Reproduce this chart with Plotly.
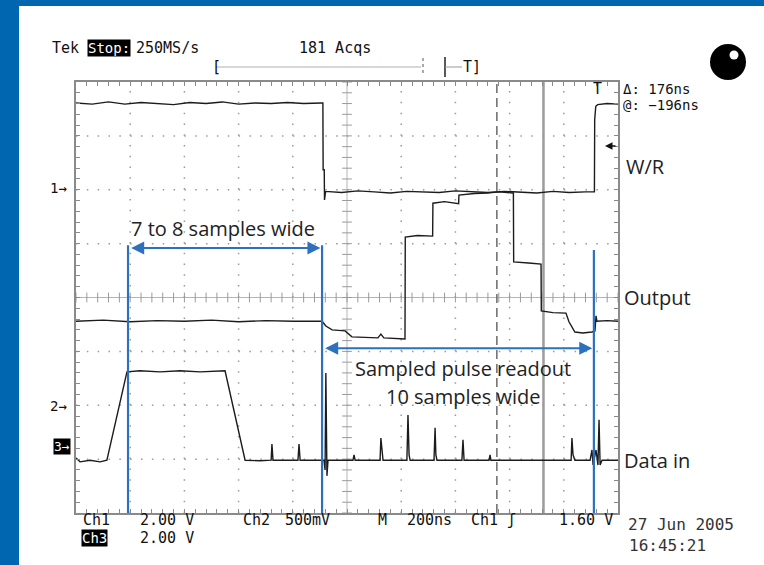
import numpy as np
import plotly.graph_objects as go

# ---------------- data (time in ns, 200 ns/div; amplitude in screen divisions) ----------------
wr_t = [0, 60, 120, 180, 240, 300, 360, 420, 480, 540, 600, 660, 720, 780, 840, 905, 911, 912,
        916, 917, 921, 980, 1040, 1100, 1160, 1220, 1280, 1340, 1400, 1460, 1520, 1580, 1640,
        1700, 1760, 1820, 1880, 1913, 1914, 1918, 1925, 1960, 2000]
wr_v = [7.61, 7.59, 7.63, 7.59, 7.62, 7.60, 7.58, 7.62, 7.60, 7.63, 7.59, 7.61, 7.60, 7.62, 7.60,
        7.61, 7.61, 6.37, 6.37, 5.81, 5.97, 5.95, 5.98, 5.96, 5.94, 5.97, 5.96, 5.95, 5.98, 5.96,
        5.95, 5.97, 5.96, 5.94, 5.97, 5.95, 5.96, 5.96, 7.30, 7.55, 7.58, 7.60, 7.59]

out_t = [0, 100, 200, 300, 400, 500, 600, 700, 800, 908, 922, 945, 993, 1018, 1114, 1125, 1136,
         1214, 1215, 1260, 1316, 1317, 1360, 1412, 1413, 1470, 1517, 1560, 1614, 1615, 1670,
         1716, 1717, 1760, 1808, 1819, 1841, 1870, 1904, 1915, 1919, 1922, 1960, 2000]
out_v = [3.56, 3.58, 3.55, 3.57, 3.56, 3.58, 3.55, 3.57, 3.56, 3.56, 3.47, 3.40, 3.38, 3.27, 3.25,
         3.32, 3.25, 3.23, 5.12, 5.15, 5.14, 5.75, 5.78, 5.74, 5.90, 5.93, 5.94, 5.96, 5.94, 4.66,
         4.64, 4.62, 3.75, 3.72, 3.71, 3.55, 3.36, 3.34, 3.36, 3.38, 3.66, 3.56, 3.57, 3.56]

din_t = [0, 15, 52, 89, 114, 188, 236, 310, 384, 458, 550, 624, 679, 720, 723, 727, 819, 823, 827,
         915, 919, 922, 926, 930, 1022, 1026, 1030, 1122, 1125, 1129, 1133, 1221, 1225, 1229,
         1233, 1321, 1325, 1328, 1332, 1424, 1428, 1432, 1524, 1528, 1531, 1827, 1830, 1834,
         1841, 1897, 1904, 1908, 1919, 1926, 1930, 1934, 1941, 2000]
din_v = [1.02, 0.95, 0.98, 0.95, 0.98, 2.62, 2.64, 2.62, 2.64, 2.62, 2.64, 0.98, 0.97, 0.98, 1.28,
         0.98, 0.98, 1.28, 0.98, 0.98, 0.80, 2.60, 0.69, 0.98, 0.98, 1.08, 0.98, 0.98, 1.39, 1.08,
         0.98, 0.98, 1.82, 1.08, 0.98, 0.98, 1.58, 1.08, 0.98, 0.98, 1.36, 0.98, 0.98, 1.08, 0.98,
         0.98, 1.39, 1.08, 0.98, 0.98, 1.17, 0.89, 1.17, 0.89, 1.73, 0.89, 0.98, 0.98]

blue_marks_t = [192, 908, 1911]     # blue marker lines
arrow1_y, arrow2_y = 4.92, 3.06
cursor_solid_t = 1725
cursor_dash_t = 1553

# ---------------- layout helpers ----------------
W, H = 764, 565
PL, PR, PT, PB = 76, 618, 82, 513
BLUE = "#2d70be"
FRAME_BLUE = "#0066b0"
MONO = "DejaVu Sans Mono"
SANS = "Open Sans"


def px(x):
    return (x - PL) / (PR - PL)


def py(y):
    return (PB - y) / (PB - PT)


def txt(s, x, y, size=15, color="#111", family=MONO, xanchor="left", bg="rgba(0,0,0,0)", weight="normal"):
    return dict(text=s, x=px(x), y=py(y), xref="paper", yref="paper", showarrow=False,
                xanchor=xanchor, yanchor="middle", bgcolor=bg, borderpad=0,
                font=dict(size=size, color=color, family=family, weight=weight))


fig = go.Figure()

# centre-line tick marks (graticule)
tx = np.arange(0, 2001, 40)
fig.add_trace(go.Scatter(x=tx, y=np.full(len(tx), 4.0), mode="markers", hoverinfo="skip",
                         marker=dict(symbol="line-ns", size=7, line=dict(width=1, color="#9a9a9a"))))
ty = np.arange(0, 8.001, 0.2)
fig.add_trace(go.Scatter(x=np.full(len(ty), 1000.0), y=ty, mode="markers", hoverinfo="skip",
                         marker=dict(symbol="line-ew", size=7, line=dict(width=1, color="#9a9a9a"))))

# traces
for t, v in [(wr_t, wr_v), (out_t, out_v), (din_t, din_v)]:
    fig.add_trace(go.Scatter(x=t, y=v, mode="lines", line=dict(color="#1c1c1c", width=1.4),
                             hoverinfo="skip"))

shapes = []
# dotted graticule
for k in range(1, 10):
    if k == 5:
        continue
    shapes.append(dict(type="line", xref="x", yref="y", x0=k * 200, x1=k * 200, y0=0, y1=8,
                       line=dict(color="#9a9a9a", width=1.5, dash="1.5px,9.28px"), layer="below"))
for k in range(1, 8):
    if k == 4:
        continue
    shapes.append(dict(type="line", xref="x", yref="y", x0=0, x1=2000, y0=k, y1=k,
                       line=dict(color="#9a9a9a", width=1.5, dash="1.5px,9.34px"), layer="below"))
# centre cross
shapes.append(dict(type="line", xref="x", yref="y", x0=0, x1=2000, y0=4, y1=4,
                   line=dict(color="#b5b5b5", width=1), layer="below"))
shapes.append(dict(type="line", xref="x", yref="y", x0=1000, x1=1000, y0=0, y1=8,
                   line=dict(color="#b5b5b5", width=1), layer="below"))
# cursors
shapes.append(dict(type="line", xref="x", yref="y", x0=cursor_solid_t, x1=cursor_solid_t, y0=0, y1=8,
                   line=dict(color="#9c9c9c", width=2.5), layer="below"))
shapes.append(dict(type="line", xref="x", yref="y", x0=cursor_dash_t, x1=cursor_dash_t, y0=0, y1=8,
                   line=dict(color="#6a6a6a", width=1.5, dash="9px,5px"), layer="below"))
# blue marker lines
tops = [arrow1_y + 0.05, arrow1_y + 0.05, 4.88]
for t, top in zip(blue_marks_t, tops):
    shapes.append(dict(type="line", xref="x", yref="y", x0=t, x1=t, y0=0, y1=top,
                       line=dict(color=BLUE, width=2.2), layer="above"))

# blue page frame
shapes.append(dict(type="rect", xref="paper", yref="paper", x0=px(0), x1=px(19), y0=py(565), y1=py(0),
                   fillcolor=FRAME_BLUE, line=dict(width=0), layer="above"))
shapes.append(dict(type="rect", xref="paper", yref="paper", x0=px(0), x1=px(764), y0=py(6), y1=py(0),
                   fillcolor=FRAME_BLUE, line=dict(width=0), layer="above"))
# black status circle
shapes.append(dict(type="circle", xref="paper", yref="paper", x0=px(710), x1=px(746), y0=py(80), y1=py(44),
                   fillcolor="black", line=dict(width=0), layer="above"))
shapes.append(dict(type="circle", xref="paper", yref="paper", x0=px(729.5), x1=px(738.5), y0=py(59.5), y1=py(50.5),
                   fillcolor="white", line=dict(width=0), layer="above"))
# trigger position bar
shapes.append(dict(type="line", xref="paper", yref="paper", x0=px(216), x1=px(421), y0=py(67), y1=py(67),
                   line=dict(color="#b0b0b0", width=1), layer="above"))
shapes.append(dict(type="line", xref="paper", yref="paper", x0=px(423), x1=px(423), y0=py(58), y1=py(76),
                   line=dict(color="#555", width=1, dash="3px,3px"), layer="above"))
shapes.append(dict(type="line", xref="paper", yref="paper", x0=px(445), x1=px(445), y0=py(57), y1=py(77),
                   line=dict(color="#222", width=1.5), layer="above"))
shapes.append(dict(type="line", xref="paper", yref="paper", x0=px(445), x1=px(462), y0=py(67), y1=py(67),
                   line=dict(color="#999", width=1), layer="above"))

annotations = []
# blue double arrows
for (xa, xb, yy) in [(blue_marks_t[0], blue_marks_t[1], arrow1_y), (blue_marks_t[1], blue_marks_t[2], arrow2_y)]:
    annotations.append(dict(x=xb - 6, y=yy, ax=xa + 6, ay=yy, xref="x", yref="y", axref="x", ayref="y",
                            text="", showarrow=True, arrowhead=2, startarrowhead=2, arrowside="end+start",
                            arrowsize=1.3, startarrowsize=1.3, arrowwidth=2, arrowcolor=BLUE))
# W/R reference arrow
annotations.append(dict(x=px(605), y=py(146), xref="paper", yref="paper", ax=12, ay=0, text="",
                        showarrow=True, arrowhead=2, arrowsize=1, arrowwidth=1.5, arrowcolor="#111"))

# explanatory texts
annotations += [
    txt("7 to 8 samples wide", 223, 228, size=20, color="#222", family=SANS, xanchor="center"),
    txt("Sampled pulse readout", 463, 368, size=20, color="#222", family=SANS, xanchor="center"),
    txt("10 samples wide", 463, 396, size=20, color="#222", family=SANS, xanchor="center"),
    txt("W/R", 625, 166, size=20, color="#222", family=SANS),
    txt("Output", 623, 297, size=20, color="#222", family=SANS),
    txt("Data in", 623, 460, size=20, color="#222", family=SANS),
]
# scope texts
annotations += [
    txt("Tek", 51, 48, size=15),
    txt("Stop:", 87, 48, size=14, color="white", bg="black"),
    txt("250MS/s", 135, 48, size=15),
    txt("181 Acqs", 298, 48, size=15),
    txt("[", 211, 67, size=15),
    txt("T]", 462, 67, size=15),
    txt("T", 597, 89, size=15, xanchor="center"),
    txt("Δ: 176ns", 622, 89, size=14),
    txt("@: −196ns", 622, 105, size=14),
    txt("1→", 49, 188, size=14),
    txt("2→", 49, 406, size=14),
    txt("3→", 53, 446, size=13, color="white", bg="black"),
    txt("Ch1", 82, 520, size=15),
    txt("2.00 V", 139, 520, size=15),
    txt("Ch2", 242, 520, size=15),
    txt("500mV", 284, 520, size=15),
    txt("M", 377, 520, size=15),
    txt("200ns", 406, 520, size=15),
    txt("Ch1 ʃ", 470, 520, size=15),
    txt("1.60 V", 558, 520, size=15),
    txt("Ch3", 81, 538, size=14, color="white", bg="black"),
    txt("2.00 V", 139, 538, size=15),
    txt("27 Jun 2005", 627, 524, size=16, color="#333"),
    txt("16:45:21", 628, 545, size=16, color="#333"),
]

axis_common = dict(showgrid=False, zeroline=False, showline=True, linecolor="#8a8a8a", linewidth=1.5,
                   mirror="allticks", ticks="inside", ticklen=4, tickcolor="#8a8a8a", tickwidth=1,
                   showticklabels=False, tickmode="linear", tick0=0, fixedrange=True)

fig.update_layout(
    width=W, height=H,
    margin=dict(l=PL, r=W - PR, t=PT, b=H - PB, pad=0),
    paper_bgcolor="white", plot_bgcolor="white",
    showlegend=False,
    xaxis=dict(range=[0, 2000], dtick=40, **axis_common),
    yaxis=dict(range=[0, 8], dtick=0.2, **axis_common),
    shapes=shapes,
    annotations=annotations,
)

fig.write_html("out.html")
